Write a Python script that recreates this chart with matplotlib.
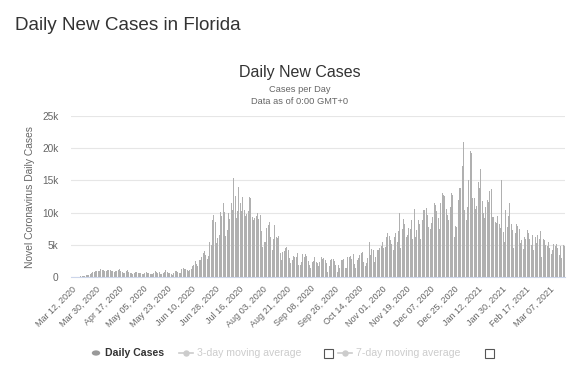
import matplotlib
matplotlib.use("Agg")
import matplotlib.pyplot as plt
from matplotlib.patches import Rectangle, Circle
from matplotlib.lines import Line2D
import numpy as np
import datetime as dt

plt.rcParams['font.family'] = ['Liberation Sans', 'DejaVu Sans']

# ---------------- data ----------------
start_date = dt.date(2020, 3, 12)

mar_2020 = [10, 15, 30, 45, 60, 110, 120, 140, 180, 230, 260, 320, 380, 420, 520, 620, 750, 820, 900, 1000]
apr_2020 = [1000, 1050, 1250, 1100, 1200, 1050, 900, 1100, 1150, 1100, 1050, 950, 850, 1000, 1050,
            1100, 1300, 900, 750, 650, 700, 1000, 1100, 800, 700, 650, 550, 600, 750, 850]
may_2020 = [700, 650, 700, 450, 500, 650, 800, 700, 600, 550, 450, 500, 650, 900, 800, 700,
            750, 500, 450, 700, 850, 1150, 800, 700, 600, 500, 400, 650, 900, 1000, 800]
jun_2020 = [700, 650, 1300, 1400, 1300, 1250, 1150, 950, 1100, 1350, 1700, 1900, 2550, 2000, 1750,
            2750, 2600, 3200, 3800, 4050, 3500, 2900, 3300, 5500, 5000, 8900, 9600, 8500, 5300, 6100]
jul_2020 = [6600, 10100, 9500, 11450, 10050, 6350, 7350, 10000, 8950, 11450, 10350, 15300, 12600, 9200,
            10200, 13950, 11450, 10300, 12450, 10350, 9450, 9800, 10250, 12450, 12200, 9350, 8900,
            9250, 9450, 9950, 9000]
aug_2020 = [9650, 7100, 4750, 5450, 5400, 7650, 8100, 8500, 6250, 4150, 5850, 8100, 6250, 6150, 6350,
            3800, 2700, 3850, 4100, 4550, 4700, 4300, 2950, 2250, 2650, 3250, 3200, 3200, 3800, 1900, 1850]
sep_2020 = [2400, 3550, 3200, 3650, 3300, 2550, 1850, 1500, 2350, 2500, 3200, 2400, 2250, 1750, 2350,
            3100, 2800, 3000, 2750, 2200, 750, 1800, 2600, 2850, 2800, 2450, 1900, 750, 1950, 1450]
oct_2020 = [2600, 2700, 2800, 1400, 1400, 3100, 3200, 3300, 2900, 3600, 2100, 1450, 2700, 3000, 3400,
            3700, 3900, 2400, 1700, 2200, 3000, 5500, 3400, 4400, 4200, 2300, 3200, 4200, 4300, 4600, 4900]
nov_2020 = [5500, 4600, 4700, 6300, 6800, 6400, 5800, 5200, 4300, 6300, 6800, 5500, 7200, 10000, 4500,
            7400, 9000, 8300, 6300, 6500, 7700, 7500, 8800, 6000, 10500, 6300, 7300, 8900, 8300, 6000]
dec_2020 = [8900, 10400, 10400, 10700, 9600, 7800, 7500, 8400, 9400, 11500, 11200, 10200, 9100, 7400,
            11500, 13000, 12700, 12600, 10600, 9600, 8800, 10900, 13000, 12800, 6300, 8000, 7800,
            11900, 13800, 13800, 17200]
jan_2021 = [21000, 10400, 8800, 10900, 15000, 19600, 19200, 12200, 12200, 10600, 11000, 14800, 13800,
            16700, 11800, 9900, 9200, 10900, 11900, 11700, 13300, 13600, 9400, 9400, 8600, 8400, 9500,
            8200, 7600, 15000, 7000]
feb_2021 = [5400, 10400, 7800, 9500, 11500, 8200, 7300, 4500, 6800, 8300, 7900, 7500, 5300, 5800,
            4400, 6300, 6000, 7300, 6900, 6000, 5000, 6600, 4300, 6300, 5300, 6500, 6000, 7100]
mar_2021 = [3200, 6000, 5800, 5000, 4800, 5500, 4500, 3600, 4200, 5200, 4900, 5200, 4500, 3500,
            4800, 3000, 5000, 4800]

daily_cases = (mar_2020 + apr_2020 + may_2020 + jun_2020 + jul_2020 + aug_2020 + sep_2020 +
               oct_2020 + nov_2020 + dec_2020 + jan_2021 + feb_2021 + mar_2021)
dates = [start_date + dt.timedelta(days=k) for k in range(len(daily_cases))]
categories = [d.strftime("%b %d, %Y") for d in dates]

y_ticks = [0, 5000, 10000, 15000, 20000, 25000]
y_tick_labels = ["0", "5k", "10k", "15k", "20k", "25k"]
tick_step = 18

# ---------------- figure ----------------
W, H = 584, 368
fig = plt.figure(figsize=(W / 100, H / 100), dpi=100)

def fx(x):
    return x / W

def fy(y):
    return 1 - y / H

ax_left, ax_right, ax_top, ax_bottom = 71, 565, 115.7, 277.3
ax = fig.add_axes([fx(ax_left), fy(ax_bottom), (ax_right - ax_left) / W, (ax_bottom - ax_top) / H])

x = np.arange(len(daily_cases))
ax.bar(x, daily_cases, width=0.75, color='#b0b0b0', edgecolor='none', zorder=3)

ax.set_xlim(-0.5, len(daily_cases) - 0.5)
ax.set_ylim(0, 25000)
ax.set_yticks(y_ticks)
ax.set_yticklabels(y_tick_labels)
ax.yaxis.grid(True, color='#e6e6e6', linewidth=0.8, zorder=0)
ax.tick_params(axis='y', length=0, labelsize=7.3, labelcolor='#666666', pad=9)

tick_idx = list(range(0, len(daily_cases), tick_step))
ax.set_xticks(tick_idx)
ax.set_xticklabels([categories[k] for k in tick_idx], rotation=45, ha='right',
                   rotation_mode='anchor')
ax.tick_params(axis='x', length=0, labelsize=6.5, labelcolor='#666666', pad=5)

for s in ['top', 'right', 'left']:
    ax.spines[s].set_visible(False)
ax.spines['bottom'].set_color('#ccd6eb')
ax.spines['bottom'].set_linewidth(0.8)
ax.set_facecolor('none')

ax.set_ylabel("Novel Coronavirus Daily Cases", fontsize=7.4, color='#666666', labelpad=5)

# ---------------- titles ----------------
fig.text(fx(15), fy(30), "Daily New Cases in Florida", fontsize=13.6, color='#333333',
         ha='left', va='baseline')
fig.text(fx(300), fy(73), "Daily New Cases", fontsize=11.5, color='#333333', ha='center', va='center')
fig.text(fx(300), fy(89), "Cases per Day", fontsize=6.7, color='#666666', ha='center', va='center')
fig.text(fx(300), fy(101), "Data as of 0:00 GMT+0", fontsize=6.7, color='#666666',
         ha='center', va='center')

# ---------------- legend ----------------
ly = 353
fig.add_artist(Circle((fx(96), fy(ly)), radius=4.2 / W, transform=fig.transFigure,
                      color='#999999', ec='none'))
fig.text(fx(105), fy(ly), "Daily Cases", fontsize=7.6, fontweight='bold', color='#333333',
         ha='left', va='center')

def ma_entry(x0, label, box_x):
    fig.add_artist(Line2D([fx(x0), fx(x0 + 14)], [fy(ly), fy(ly)], transform=fig.transFigure,
                          color='#cccccc', linewidth=1.2))
    fig.add_artist(Line2D([fx(x0 + 7)], [fy(ly)], transform=fig.transFigure, marker='o',
                          markersize=3.6, color='#cccccc', linestyle='none'))
    fig.text(fx(x0 + 18), fy(ly), label, fontsize=7.6, color='#cccccc', ha='left', va='center')
    fig.add_artist(Rectangle((fx(box_x), fy(ly + 4.5)), 9 / W, 9 / H, transform=fig.transFigure,
                             facecolor='white', edgecolor='#555555', linewidth=0.8))

ma_entry(179, "3-day moving average", 324)
ma_entry(338, "7-day moving average", 485)

fig.savefig("out.png", dpi=100)
